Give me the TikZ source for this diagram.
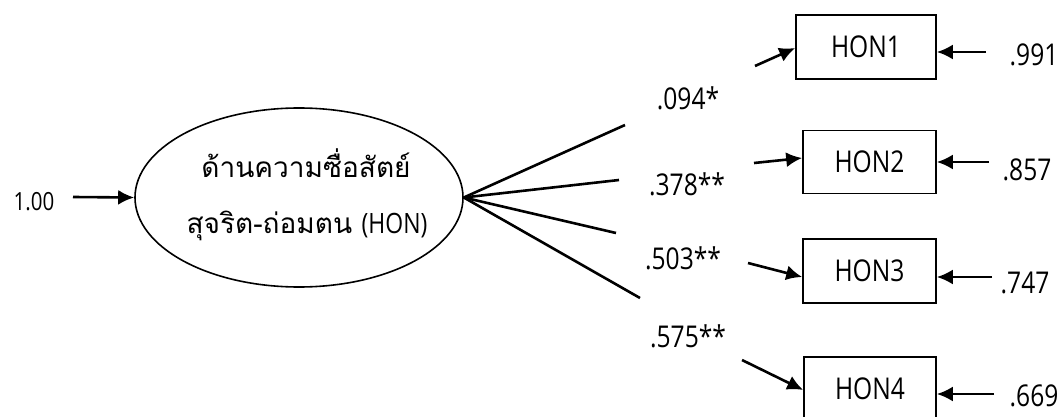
\documentclass[tikz,border=0pt]{standalone}
\usepackage{fontspec}
\setmainfont[FakeStretch=0.82]{Open Sans}
\newfontfamily\thaifont[Script=Thai]{Loma}
\usetikzlibrary{shapes.geometric,arrows.meta}
\begin{document}
\begin{tikzpicture}[x=1pt,y=-1pt,
  txt/.style={font=\fontsize{30}{36}\selectfont, inner sep=0pt},
  small/.style={font=\fontsize{25}{30}\selectfont, inner sep=0pt},
  thtxt/.style={font=\fontsize{28}{34}\selectfont, inner sep=0pt, anchor=base},
  obs/.style={draw, line width=1.6pt, minimum width=133pt, minimum height=63pt, inner sep=0pt, font=\fontsize{30}{36}\selectfont},
  lat/.style={draw, ellipse, line width=1.6pt, minimum width=328pt, minimum height=179pt, inner sep=0pt},
  load/.style={line width=2.6pt},
  arr/.style={line width=2.6pt, -{Latex[length=16pt,width=15pt]}}]
\useasboundingbox (0,0) rectangle (1062,417);
% latent
\node[lat] (f) at (299,197.5) {};
\node[thtxt] (t1) at (306,177) {\thaifont ด้านความซื่อสัตย์};
\node[thtxt] (t2) at (307,233) {\thaifont สุจริต-ถ่อมตน {\normalfont\fontsize{28}{34}\selectfont(HON)}};
\node[small] (v) at (34,202) {1.00};
\coordinate (vs) at (73,197);
\draw[arr] (vs) -- (f.west);
% observed
\node[obs, minimum width=140pt, minimum height=64pt] (h1) at (866,47) {HON1};
\node[obs] (h2) at (869.5,162) {HON2};
\node[obs, minimum height=64pt] (h3) at (869.5,271) {HON3};
\node[obs, minimum width=132pt, minimum height=64pt] (h4) at (870,389) {HON4};
% loading line ends
\coordinate (l1) at (625,125);
\coordinate (l2) at (619,180);
\coordinate (l3) at (616,233);
\coordinate (l4) at (640,298);
\foreach \i in {1,2,3,4} \draw[load] (f.east) -- (l\i);
% loading labels
\node[txt] (b1) at (688,98) {.094*};
\node[txt] (b2) at (687,184) {.378**};
\node[txt] (b3) at (683,258) {.503**};
\node[txt] (b4) at (688,336) {.575**};
% arrows into indicators
\coordinate (a1) at (755,66);
\coordinate (a2) at (754,163);
\coordinate (a3) at (748,263);
\coordinate (a4) at (742,360);
\draw[arr] (a1) -- (h1.west |- 0,48);
\draw[arr] (a2) -- (h2.west |- 0,158);
\draw[arr] (a3) -- (h3.west |- 0,277);
\draw[arr] (a4) -- (h4.west |- 0,390);
% error arrows
\coordinate (e1) at (986,52);
\coordinate (e2) at (989,162);
\coordinate (e3) at (992,277);
\coordinate (e4) at (994,394);
\draw[arr] (e1) -- (h1.east |- e1);
\draw[arr] (e2) -- (h2.east |- e2);
\draw[arr] (e3) -- (h3.east |- e3);
\draw[arr] (e4) -- (h4.east |- e4);
\node[txt] (r1) at (1034,55) {.991};
\node[txt] (r2) at (1027,170) {.857};
\node[txt] (r3) at (1025,283) {.747};
\node[txt] (r4) at (1034,396) {.669};
\end{tikzpicture}
\end{document}
